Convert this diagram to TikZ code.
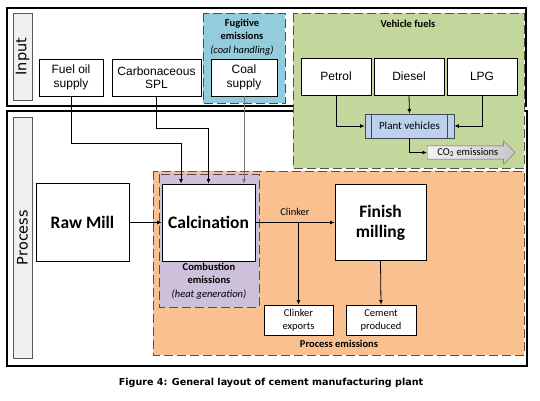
\documentclass[tikz,border=0pt]{standalone}
\usepackage{fontspec}
\setmainfont{Liberation Sans}
\newfontfamily\calib{Carlito}
\newfontfamily\dejavu{DejaVu Sans}
\usetikzlibrary{arrows.meta,shapes.arrows}

\definecolor{fugblue}{HTML}{93CDDD}
\definecolor{vehgreen}{HTML}{C3D69B}
\definecolor{procorange}{HTML}{FAC090}
\definecolor{combpurple}{HTML}{CCC0DA}
\definecolor{pvblue}{HTML}{BDD1EC}

\tikzset{
  box/.style={draw, fill=white, line width=0.9pt, align=center, inner sep=0pt,
    font=\fontsize{12}{13.5}\selectfont},
  bigbox/.style={draw, fill=white, line width=0.9pt, align=center, inner sep=0pt,
    font=\calib\bfseries\fontsize{17.5}{20}\selectfont},
  smallbox/.style={draw, fill=white, line width=0.9pt, align=center, inner sep=0pt,
    minimum width=69pt, minimum height=30pt, font=\calib\fontsize{10.5}{13}\selectfont},
  lab/.style={draw=black!65, fill=black!6, line width=1pt, rotate=90, inner sep=0pt,
    minimum height=19pt, font=\dejavu\fontsize{14.5}{16}\selectfont},
  region/.style={dash pattern=on 9pt off 4pt, line width=0.9pt},
  rtext/.style={align=center, font=\calib\fontsize{10.5}{13.5}\selectfont},
  arr/.style={-{Latex[length=4.5pt,width=4pt]}, line width=0.8pt},
  frame/.style={line width=1.3pt},
}

\begin{document}
\begin{tikzpicture}[x=1pt,y=-1pt]
\useasboundingbox (0,0) rectangle (540,400);

% outer frames
\draw[frame] (7,8) rectangle (526,106);
\draw[frame] (7,111) rectangle (527,366);
\node[lab, minimum width=87pt] (inlab) at (22.5,56.5) {Input};
\node[lab, minimum width=241pt] (proclab) at (22.5,237.5) {Process};

% emission regions
\draw[region, fill=fugblue, draw=fugblue!40!black] (203,13) rectangle (285,103);
\draw[region, fill=vehgreen, draw=vehgreen!40!black] (293,13) rectangle (524,168);
\draw[region, fill=procorange, draw=procorange!40!black] (153,171) rectangle (524,355);
\draw[region, fill=combpurple, draw=combpurple!40!black] (159,174) rectangle (259,307);

\node[rtext] (fugtxt) at (242,37) {\textbf{Fugitive}\\\textbf{emissions}\\\textit{(coal handling)}};
\node[rtext] (vehtxt) at (408,24) {\textbf{Vehicle fuels}};
\node[rtext] (combtxt) at (209,281) {\textbf{Combustion}\\\textbf{emissions}\\\textit{(heat generation)}};
\node[rtext] (proctxt) at (339,344) {\textbf{Process emissions}};

% input supplies
\node[box, minimum width=64pt, minimum height=37pt] (fuel) at (71,77.5) {Fuel oil\\supply};
\node[box, minimum width=89pt, minimum height=37pt] (spl) at (156.5,77.5) {Carbonaceous\\SPL};
\node[box, minimum width=66pt, minimum height=37pt] (coal) at (244,77.5) {Coal\\supply};

% vehicle fuels
\node[box, minimum width=70pt, minimum height=37pt] (petrol) at (336,76.5) {Petrol};
\node[box, minimum width=70pt, minimum height=37pt] (diesel) at (409,76.5) {Diesel};
\node[box, minimum width=70pt, minimum height=37pt] (lpg) at (482,76.5) {LPG};
\node[draw=pvblue!35!black, fill=pvblue, line width=0.8pt, minimum width=89pt, minimum height=24pt,
  inner sep=0pt, font=\calib\fontsize{11}{12}\selectfont] (pv) at (409.5,126) {Plant vehicles};
\draw[draw=pvblue!35!black, line width=0.8pt] ([xshift=7pt]pv.north west) -- ([xshift=7pt]pv.south west);
\draw[draw=pvblue!35!black, line width=0.8pt] ([xshift=-7pt]pv.north east) -- ([xshift=-7pt]pv.south east);
\node[single arrow, draw=black!60, left color=black!5, right color=black!22, single arrow head extend=5pt,
  minimum height=88pt, inner sep=2pt, anchor=tail,
  font=\calib\fontsize{10.5}{12}\selectfont] (co2) at (427,152.5) {CO\textsubscript{2} emissions};

% process
\node[bigbox, minimum width=93pt, minimum height=78pt] (raw) at (82.5,222.5) {Raw Mill};
\node[bigbox, minimum width=93pt, minimum height=77pt] (calc) at (208.5,222.5) {Calcination};
\node[bigbox, minimum width=91pt, minimum height=76pt] (finish) at (380.5,222.5) {Finish\\milling};
\node[smallbox] (exports) at (298.5,320) {Clinker\\exports};
\node[smallbox, minimum width=70pt] (cement) at (381,320) {Cement\\produced};

\coordinate (fuelin) at ([xshift=-27.5pt]calc.north);
\coordinate (coalin) at (calc.north -| coal.south);

% connectors
\draw[arr] (fuel.south) -- ++(0,47) -| (fuelin);
\draw[arr] (spl.south) -- ++(0,32) -| (calc.north);
\draw[arr, draw=black!55] (coal.south) -- (coalin);
\draw[arr] (raw.east) -- (calc.west);
\draw[arr] (calc.east) -- node[above=3pt, font=\calib\fontsize{10.5}{12}\selectfont] (clinklab) {Clinker} (finish.west);
\draw[arr] (exports.north |- calc.east) -- (exports.north);
\draw[arr] (finish.south) -- (cement.north);
\draw[arr] (petrol.south) |- (pv.west);
\draw[arr] (diesel.south) -- (pv.north);
\draw[arr] (lpg.south) |- (pv.east);
\draw[arr] (pv.south) |- (co2.tail);

\node[font=\dejavu\bfseries\fontsize{9.6}{11}\selectfont] (caption) at (271,383)
  {Figure 4: General layout of cement manufacturing plant};

\end{tikzpicture}
\end{document}
